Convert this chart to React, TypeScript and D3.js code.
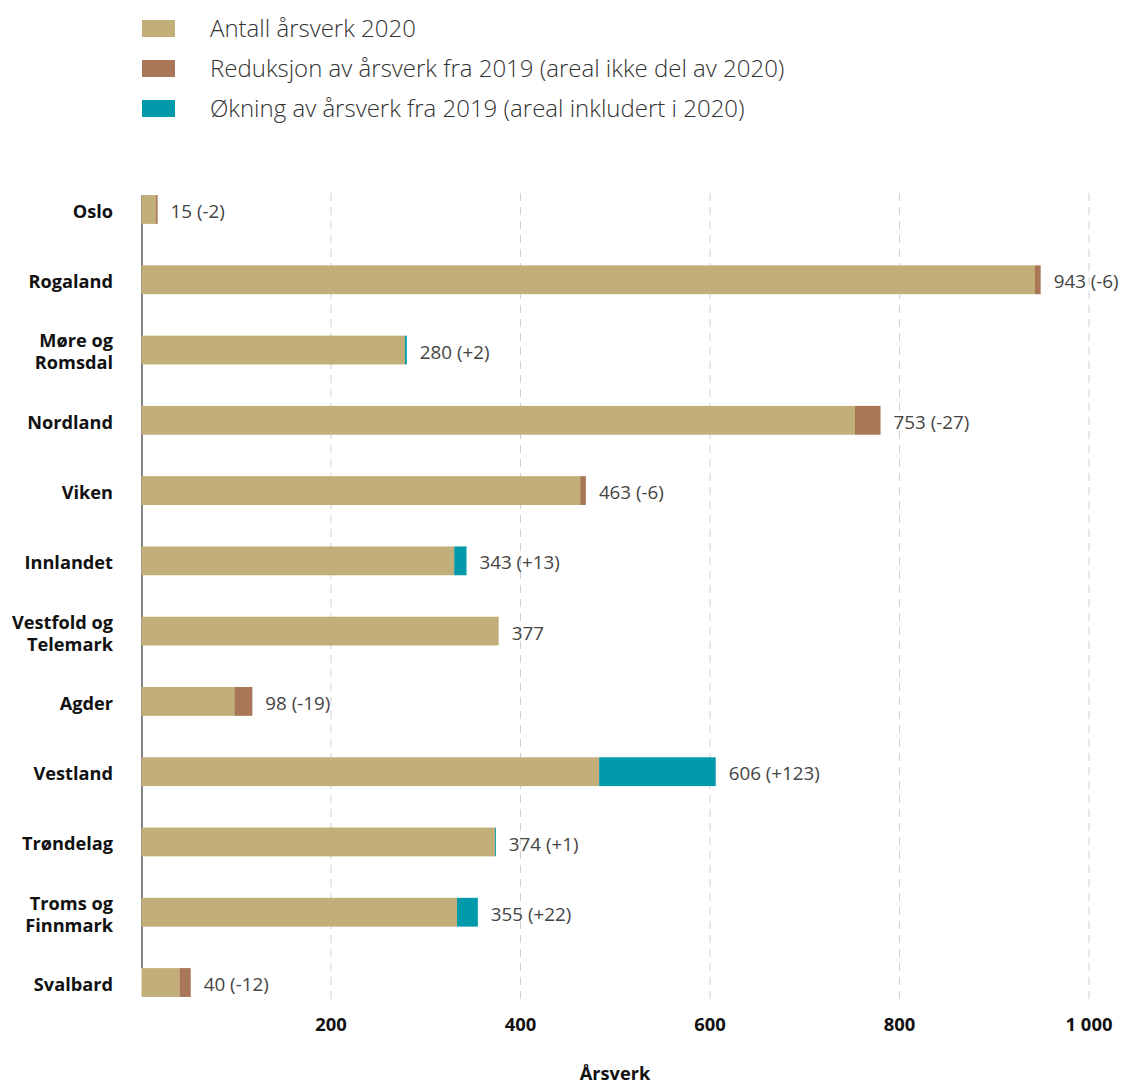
import React from "react";
import * as d3 from "d3";

const categories = ["Oslo", "Rogaland", "Møre og Romsdal", "Nordland", "Viken", "Innlandet", "Vestfold og Telemark", "Agder", "Vestland", "Trøndelag", "Troms og Finnmark", "Svalbard"];
const categoryLines = [["Oslo"], ["Rogaland"], ["Møre og", "Romsdal"], ["Nordland"], ["Viken"], ["Innlandet"], ["Vestfold og", "Telemark"], ["Agder"], ["Vestland"], ["Trøndelag"], ["Troms og", "Finnmark"], ["Svalbard"]];
const total2020 = [15, 943, 280, 753, 463, 343, 377, 98, 606, 374, 355, 40];
const change = [-2, -6, 2, -27, -6, 13, 0, -19, 123, 1, 22, -12];
const valueLabels = ["15 (-2)", "943 (-6)", "280 (+2)", "753 (-27)", "463 (-6)", "343 (+13)", "377", "98 (-19)", "606 (+123)", "374 (+1)", "355 (+22)", "40 (-12)"];
const xTicks = [200, 400, 600, 800, 1000];
const legendLabels = ["Antall årsverk 2020", "Reduksjon av årsverk fra 2019 (areal ikke del av 2020)", "Økning av årsverk fra 2019 (areal inkludert i 2020)"];
const colors = ["#c2ae78", "#a97757", "#009aab"];

export default function App() {
  const W = 1122, H = 1084;
  const x = d3.scaleLinear().domain([0, 1000]).range([141.5, 1089]);
  const y = d3.scaleBand().domain(categories).range([174, 1018]).paddingInner(0.59).paddingOuter(0.3);
  const font = "'Open Sans', sans-serif";
  const fmt = (v: number) => (v >= 1000 ? "1 000" : String(v));
  return (
    <svg width={W} height={H} style={{ position: "absolute", left: 0, top: 0, fontFamily: font }}>
      {legendLabels.map((l, i) => (
        <g key={l}>
          <rect x={142} y={20 + i * 40} width={33} height={17} fill={colors[i]} />
          <text x={210} y={28.5 + i * 40} dy="0.35em" fontSize={24} fill="#333" fontWeight={300}>{l}</text>
        </g>
      ))}
      {xTicks.map((t) => (
        <line key={t} x1={x(t)} x2={x(t)} y1={193} y2={1000} stroke="#d0d0d0" strokeWidth={1} strokeDasharray="8,6" />
      ))}
      <line x1={142} x2={142} y1={195} y2={968} stroke="#333" strokeWidth={1.2} />
      {categories.map((c, i) => {
        const y0 = y(c)!;
        const bh = y.bandwidth();
        const tot = total2020[i];
        const ch = change[i];
        const base = ch > 0 ? tot - ch : tot;
        const end = ch < 0 ? tot - ch : tot;
        const lines = categoryLines[i];
        const cy = y0 + bh / 2 + 2;
        return (
          <g key={c}>
            <rect x={x(0)} y={y0} width={x(base) - x(0)} height={bh} fill={colors[0]} />
            {ch < 0 && <rect x={x(tot)} y={y0} width={x(end) - x(tot)} height={bh} fill={colors[1]} />}
            {ch > 0 && <rect x={x(base)} y={y0} width={x(tot) - x(base)} height={bh} fill={colors[2]} />}
            <text x={x(end) + 13} y={cy} dy="0.35em" fontSize={18.8} fill="#444">{valueLabels[i]}</text>
            {lines.map((ln, j) => (
              <text key={j} x={113} y={cy + (j - (lines.length - 1) / 2) * 22} dy="0.35em" textAnchor="end" fontSize={18.2} fontWeight={700} fill="#111">{ln}</text>
            ))}
          </g>
        );
      })}
      {xTicks.map((t) => (
        <text key={t} x={x(t)} y={1025} dy="0.35em" textAnchor="middle" fontSize={18.4} fontWeight={700} fill="#111">{fmt(t)}</text>
      ))}
      <text x={615} y={1074} dy="0.35em" textAnchor="middle" fontSize={18.2} fontWeight={700} fill="#111">Årsverk</text>
    </svg>
  );
}
